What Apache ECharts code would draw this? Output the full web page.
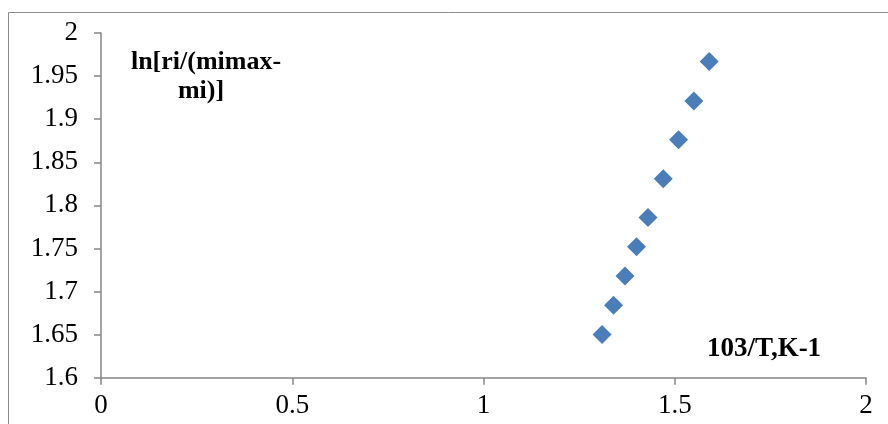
<!DOCTYPE html>
<html>
<head>
<meta charset="utf-8">
<script src="https://cdn.jsdelivr.net/npm/echarts@6/dist/echarts.min.js"></script>
<style>html,body{margin:0;padding:0;background:#fff}#c{width:888px;height:424px}</style>
</head>
<body>
<div id="c"></div>
<script>
const xValues = [1.31, 1.34, 1.37, 1.40, 1.43, 1.47, 1.51, 1.55, 1.59];
const yValues = [1.650, 1.684, 1.718, 1.752, 1.786, 1.831, 1.876, 1.921, 1.967];
const yTitleLines = ['ln[ri/(mimax-', 'mi)]'];
const xTitle = '103/T,K-1';

const font = '"Liberation Serif", "Times New Roman", serif';
const chart = echarts.init(document.getElementById('c'), null, {renderer: 'canvas'});
const axisColor = '#868686';
chart.setOption({
  animation: false,
  backgroundColor: '#fff',
  grid: {left: 101, right: 22, top: 33, bottom: 46.3},
  xAxis: {
    type: 'value', min: 0, max: 2, interval: 0.5,
    axisLine: {show: true, onZero: false, lineStyle: {color: axisColor, width: 1.5}},
    axisTick: {show: true, inside: false, length: 7, lineStyle: {color: axisColor, width: 1.5}},
    splitLine: {show: false},
    axisLabel: {color: '#000', fontFamily: font, fontSize: 27, margin: 15,
      formatter: v => String(v)}
  },
  yAxis: {
    type: 'value', min: 1.6, max: 2, interval: 0.05,
    axisLine: {show: true, onZero: false, lineStyle: {color: axisColor, width: 1.5}},
    axisTick: {show: true, inside: false, length: 7, lineStyle: {color: axisColor, width: 1.5}},
    splitLine: {show: false},
    axisLabel: {color: '#000', fontFamily: font, fontSize: 27, margin: 23,
      formatter: v => (Math.round(v * 100) / 100).toString()}
  },
  series: [{
    type: 'scatter',
    symbol: 'diamond',
    symbolSize: 19,
    itemStyle: {color: '#4A7EBB', opacity: 1},
    data: xValues.map((x, i) => [x, yValues[i]])
  }],
  graphic: [
    {type: 'rect', shape: {x: 8.5, y: 12.5, width: 900, height: 430},
      style: {fill: 'none', stroke: '#8c8c8c', lineWidth: 1}, silent: true, z: -1},
    {type: 'text', x: 206, y: 62,
      style: {text: yTitleLines[0], font: 'bold 26px ' + font, fill: '#000', align: 'center', verticalAlign: 'middle'}},
    {type: 'text', x: 201, y: 91,
      style: {text: yTitleLines[1], font: 'bold 26px ' + font, fill: '#000', align: 'center', verticalAlign: 'middle'}},
    {type: 'text', x: 764, y: 349,
      style: {text: xTitle, font: 'bold 27px ' + font, fill: '#000', align: 'center', verticalAlign: 'middle'}}
  ]
});
</script>
</body>
</html>
